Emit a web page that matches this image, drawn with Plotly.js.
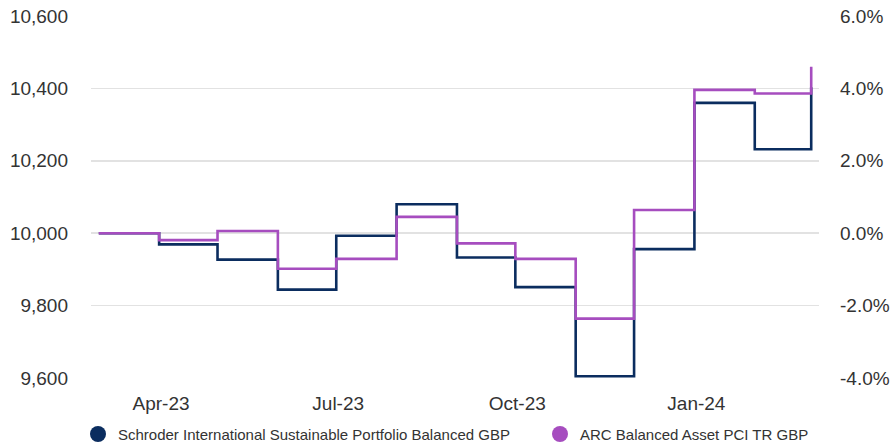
<!DOCTYPE html>
<html>
<head>
<meta charset="utf-8">
<script src="https://cdn.plot.ly/plotly-3.0.1.min.js"></script>
<style>html,body{margin:0;padding:0;background:#fff;}#chart{width:893px;height:444px;}</style>
</head>
<body>
<div id="chart"></div>
<script>
// Month-end dates
const dates = ['2023-02-28','2023-03-31','2023-04-30','2023-05-31','2023-06-30','2023-07-31','2023-08-31','2023-09-30','2023-10-31','2023-11-30','2023-12-31','2024-01-31','2024-02-29'];
// Growth of 10,000
const fundValues  = [10000, 9969, 9927, 9844, 9993, 10080, 9933, 9851, 9605, 9956, 10360, 10232, 10403];
const benchValues = [10000, 9981, 10006, 9902, 9929, 10045, 9972, 9929, 9764, 10064, 10396, 10386, 10460];
const seriesNames = ['Schroder International Sustainable Portfolio Balanced GBP', 'ARC Balanced Asset PCI TR GBP'];
const tickDates = ['2023-04-01','2023-07-01','2023-10-01','2024-01-01'];
const tickLabels = ['Apr-23','Jul-23','Oct-23','Jan-24'];
const leftTicks = [9600, 9800, 10000, 10200, 10400, 10600];
const rightTicks = [-4, -2, 0, 2, 4, 6];
const rightTickLabels = ['-4.0%', '-2.0%', '0.0%', '2.0%', '4.0%', '6.0%'];
const baseValue = 10000;

const navy = '#0b2d5f';
const purple = '#a64dbf';
const font = 'Liberation Sans, Arial, sans-serif';

const fundPct = fundValues.map(v => (v / baseValue - 1) * 100);

const traces = [
  {x: dates, y: fundValues, type: 'scatter', mode: 'lines', line: {color: navy, width: 2.6, shape: 'hv'}, showlegend: false, hoverinfo: 'skip'},
  {x: dates, y: benchValues, type: 'scatter', mode: 'lines', line: {color: purple, width: 2.6, shape: 'hv'}, showlegend: false, hoverinfo: 'skip'},
  // same fund series expressed as % change, only to carry the right-hand axis
  {x: dates, y: fundPct, yaxis: 'y2', type: 'scatter', mode: 'lines', line: {color: 'rgba(0,0,0,0)', width: 0, shape: 'hv'}, opacity: 0, showlegend: false, hoverinfo: 'skip'},
  {x: [null], y: [null], type: 'scatter', mode: 'markers', name: seriesNames[0], legend: 'legend', marker: {color: navy, size: 16, symbol: 'circle'}},
  {x: [null], y: [null], type: 'scatter', mode: 'markers', name: seriesNames[1], legend: 'legend2', marker: {color: purple, size: 16, symbol: 'circle'}}
];

const legendBase = {orientation: 'h', xref: 'container', yref: 'container', xanchor: 'left', y: 0.022, yanchor: 'middle', font: {size: 15, color: '#333'}, itemclick: false, bgcolor: 'rgba(0,0,0,0)'};

const layout = {
  width: 893, height: 444,
  margin: {l: 91, r: 74, t: 16, b: 66, pad: 0},
  paper_bgcolor: '#fff', plot_bgcolor: '#fff',
  font: {family: font, color: '#333', size: 19},
  showlegend: true,
  legend: Object.assign({}, legendBase, {x: 78 / 893}),
  legend2: Object.assign({}, legendBase, {x: 540 / 893}),
  xaxis: {type: 'date', range: ['2023-02-24', '2024-03-04'], tickvals: tickDates, ticktext: tickLabels, showgrid: false, zeroline: false, showline: false, ticks: '', ticklabelstandoff: 12, tickfont: {size: 19, color: '#333'}},
  yaxis: {range: [9600, 10600], tickvals: leftTicks, tickformat: ',d', showgrid: true, gridcolor: '#e2e2e2', gridwidth: 1.5, zeroline: false, showline: false, ticks: '', ticklabelstandoff: 22, tickfont: {size: 19, color: '#333'}},
  yaxis2: {overlaying: 'y', side: 'right', range: [-4, 6], tickvals: rightTicks, ticktext: rightTickLabels, showgrid: false, zeroline: false, showline: false, ticks: '', ticklabelstandoff: 20, tickfont: {size: 19, color: '#333'}}
};

Plotly.newPlot('chart', traces, layout, {staticPlot: true, displayModeBar: false});
</script>
</body>
</html>
